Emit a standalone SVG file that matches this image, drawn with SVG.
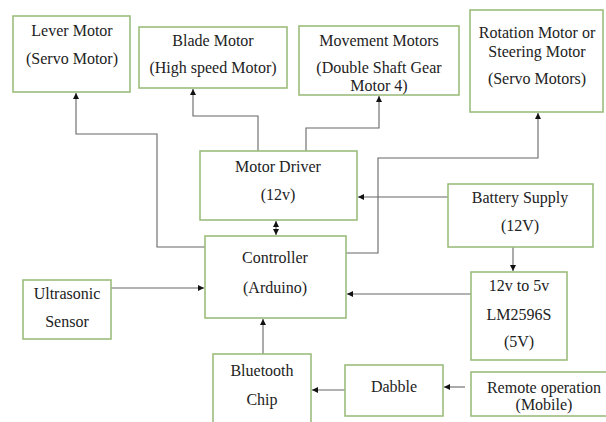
<svg xmlns="http://www.w3.org/2000/svg" width="606" height="422" viewBox="0 0 606 422">
<style>
.box{fill:#fff;stroke:#9cbd7c;stroke-width:1.6}
.t{font-size:16px;fill:#222;text-anchor:middle}
.c{fill:none;stroke:#666;stroke-width:1.1}
</style>
<defs>
<marker id="ah" markerWidth="7" markerHeight="6" refX="6" refY="3" orient="auto-start-reverse" markerUnits="userSpaceOnUse">
<path d="M0,0 L6,3 L0,6 z" fill="#111"/>
</marker>
</defs>
<rect width="606" height="422" fill="#fff"/>
<g id="connectors">
<path class="c" d="M205,247 H157 V134 H76 V93" marker-end="url(#ah)"/>
<path class="c" d="M258,151 V116 H193 V89" marker-end="url(#ah)"/>
<path class="c" d="M306,151 V128 H379 V96" marker-end="url(#ah)"/>
<path class="c" d="M346,253 H378 V158 H538 V113" marker-end="url(#ah)"/>
<path class="c" d="M448,197 H358" marker-end="url(#ah)"/>
<path class="c" d="M513,247 V271" marker-end="url(#ah)"/>
<path class="c" d="M471,294 H347" marker-end="url(#ah)"/>
<path class="c" d="M108,288 H204" marker-end="url(#ah)"/>
<path class="c" d="M263,354 V319" marker-end="url(#ah)"/>
<path class="c" d="M345,390 H312" marker-end="url(#ah)"/>
<path class="c" d="M465,387 H444" marker-end="url(#ah)"/>
<path class="c" d="M276,221 V235" marker-start="url(#ah)" marker-end="url(#ah)"/>
</g>
<g font-family="Liberation Serif, DejaVu Serif, serif">
<g id="lever"><rect class="box" x="13" y="16" width="117" height="76"/><text class="t" x="72" y="36">Lever Motor</text><text class="t" x="72" y="64">(Servo Motor)</text></g>
<g id="blade"><rect class="box" x="139" y="27" width="148" height="61"/><text class="t" x="213" y="46">Blade Motor</text><text class="t" x="213" y="73">(High speed Motor)</text></g>
<g id="movement"><rect class="box" x="299" y="26" width="160" height="69"/><text class="t" x="379" y="46">Movement Motors</text><text class="t" x="379" y="73">(Double Shaft Gear</text><text class="t" x="379" y="91">Motor 4)</text></g>
<g id="rotation"><rect class="box" x="470" y="10" width="133" height="102"/><text class="t" x="537" y="38">Rotation Motor or</text><text class="t" x="537" y="57">Steering Motor</text><text class="t" x="537" y="84">(Servo Motors)</text></g>
<g id="motordriver"><rect class="box" x="200" y="151" width="157" height="69"/><text class="t" x="278" y="172">Motor Driver</text><text class="t" x="278" y="200">(12v)</text></g>
<g id="battery"><rect class="box" x="448" y="184" width="145" height="63"/><text class="t" x="520" y="203">Battery Supply</text><text class="t" x="520" y="231">(12V)</text></g>
<g id="controller"><rect class="box" x="205" y="236" width="141" height="82"/><text class="t" x="275" y="263">Controller</text><text class="t" x="275" y="293">(Arduino)</text></g>
<g id="ultrasonic"><rect class="box" x="23" y="280" width="88" height="59"/><text class="t" x="67" y="299">Ultrasonic</text><text class="t" x="67" y="327">Sensor</text></g>
<g id="converter"><rect class="box" x="471" y="272" width="96" height="88"/><text class="t" x="519" y="291">12v to 5v</text><text class="t" x="519" y="320">LM2596S</text><text class="t" x="519" y="347">(5V)</text></g>
<g id="bluetooth"><rect class="box" x="213" y="354" width="98" height="80"/><text class="t" x="262" y="376">Bluetooth</text><text class="t" x="262" y="405">Chip</text></g>
<g id="dabble"><rect class="box" x="345" y="365" width="98" height="51"/><text class="t" x="394" y="392">Dabble</text></g>
<g id="remote"><rect class="box" x="471" y="372" width="145" height="44"/><text class="t" x="544" y="393">Remote operation</text><text class="t" x="544" y="410">(Mobile)</text></g>
</g>
</svg>
